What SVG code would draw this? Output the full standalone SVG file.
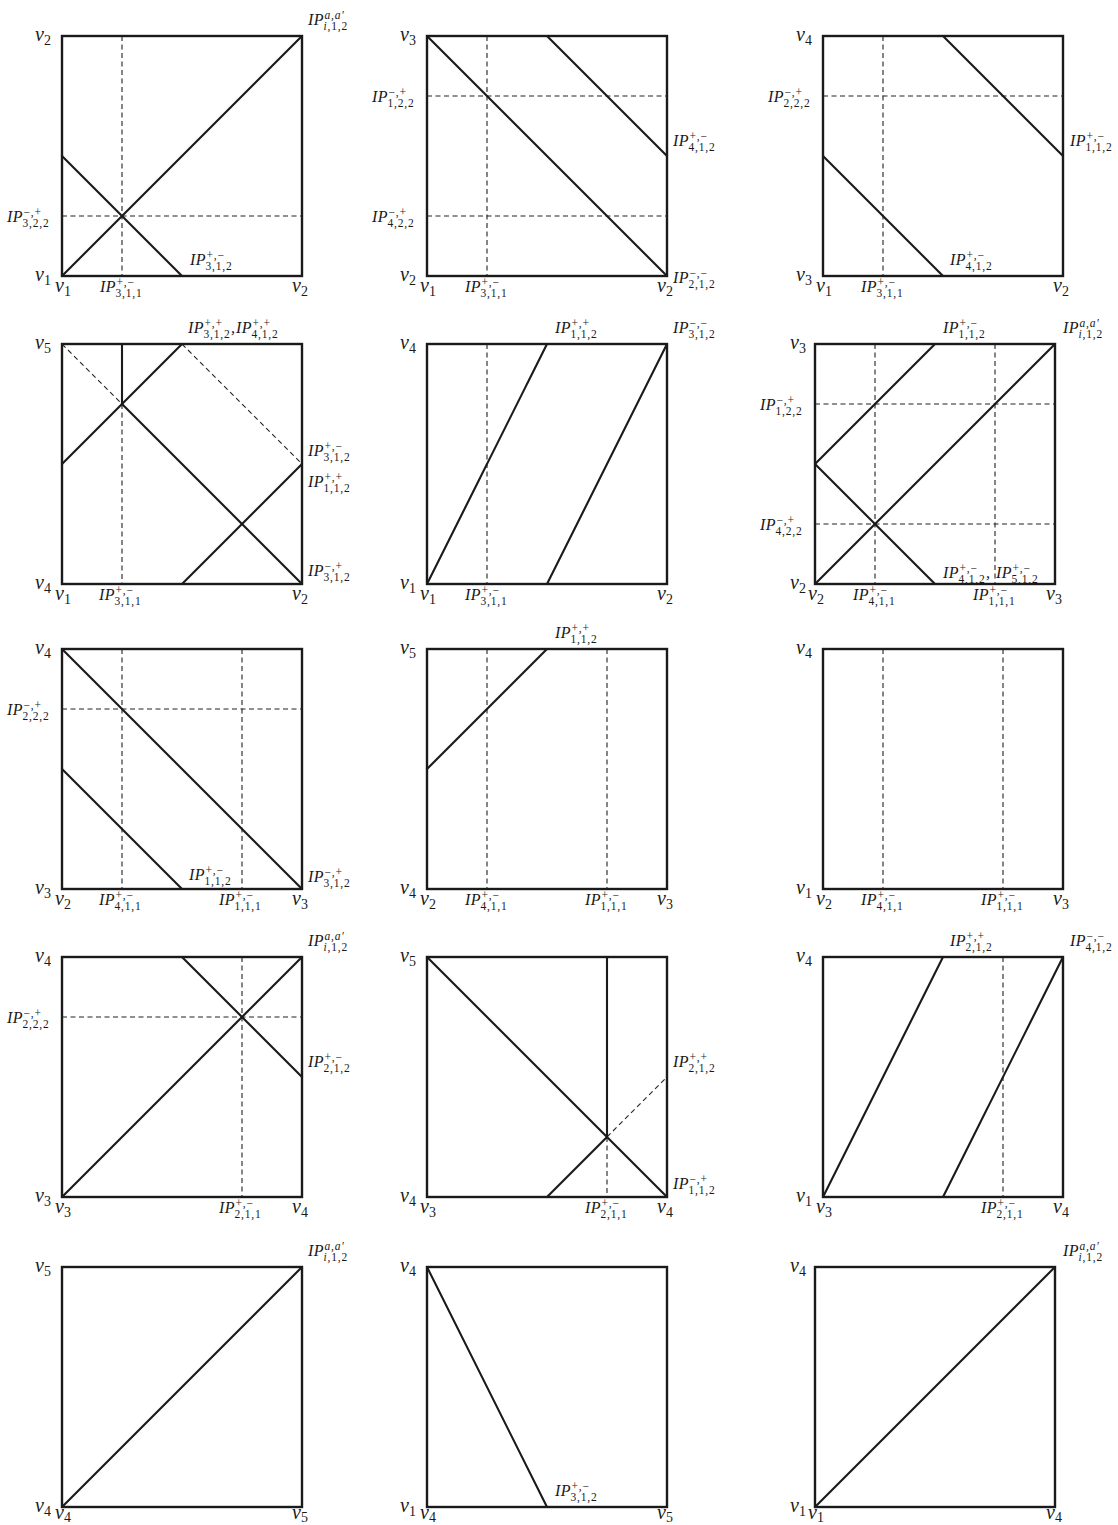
<svg xmlns="http://www.w3.org/2000/svg" width="1118" height="1525" viewBox="0 0 1118 1525">
<style>
.bg{fill:#ffffff}
.fr{fill:none;stroke:#1a1a1a;stroke-width:2.4}
.ln{fill:none;stroke:#1a1a1a;stroke-width:2.1;stroke-linecap:round}
.dl{fill:none;stroke:#222;stroke-width:1.1;stroke-dasharray:5 3.5}
.v{font-family:"Liberation Serif",serif;font-style:italic;font-size:20px;fill:#1a1a1a}
.vs{font-style:normal;font-size:14px}
.ip{font-family:"Liberation Serif",serif;font-style:italic;font-size:16px;letter-spacing:0.3px;fill:#1a1a1a}
.sp,.sb{font-style:normal;font-size:11.5px;letter-spacing:0.8px}
.it{font-style:italic}
</style>
<rect class="bg" x="0" y="0" width="1118" height="1525"/>

<!-- Row 1 -->
<g id="panel-1-1" transform="translate(62,36)">
  <rect class="fr" width="240" height="240"/>
  <g id="connectors-1-1">
    <line class="dl" x1="60" y1="0" x2="60" y2="240"/>
    <line class="dl" x1="0" y1="180" x2="240" y2="180"/>
    <line class="ln" x1="0" y1="240" x2="240" y2="0"/>
    <line class="ln" x1="0" y1="120" x2="120" y2="240"/>
  </g>
  <text class="v" x="-27" y="5">v<tspan class="vs" dy="4">2</tspan></text>
  <text class="v" x="-27" y="245">v<tspan class="vs" dy="4">1</tspan></text>
  <text class="v" x="-7" y="256">v<tspan class="vs" dy="4">1</tspan></text>
  <text class="v" x="230" y="256">v<tspan class="vs" dy="4">2</tspan></text>
  <text class="ip" x="246" y="-11">IP<tspan class="sp it" x="262.5" y="-17.5">a,a′</tspan><tspan class="sb" x="261.5" y="-6.5"><tspan class="it">i</tspan>,1,2</tspan></text>
  <text class="ip" x="-55" y="186">IP<tspan class="sp" x="-38.5" y="179.5">−,+</tspan><tspan class="sb" x="-39.5" y="190.5">3,2,2</tspan></text>
  <text class="ip" x="128" y="229">IP<tspan class="sp" x="144.5" y="222.5">+,−</tspan><tspan class="sb" x="143.5" y="233.5">3,1,2</tspan></text>
  <text class="ip" x="38" y="256">IP<tspan class="sp" x="54.5" y="249.5">+,−</tspan><tspan class="sb" x="53.5" y="260.5">3,1,1</tspan></text>
</g>

<g id="panel-1-2" transform="translate(427,36)">
  <rect class="fr" width="240" height="240"/>
  <g id="connectors-1-2">
    <line class="dl" x1="60" y1="0" x2="60" y2="240"/>
    <line class="dl" x1="0" y1="60" x2="240" y2="60"/>
    <line class="dl" x1="0" y1="180" x2="240" y2="180"/>
    <line class="ln" x1="0" y1="0" x2="240" y2="240"/>
    <line class="ln" x1="120" y1="0" x2="240" y2="120"/>
  </g>
  <text class="v" x="-27" y="5">v<tspan class="vs" dy="4">3</tspan></text>
  <text class="v" x="-27" y="245">v<tspan class="vs" dy="4">2</tspan></text>
  <text class="v" x="-7" y="256">v<tspan class="vs" dy="4">1</tspan></text>
  <text class="v" x="230" y="256">v<tspan class="vs" dy="4">2</tspan></text>
  <text class="ip" x="-55" y="66">IP<tspan class="sp" x="-38.5" y="59.5">−,+</tspan><tspan class="sb" x="-39.5" y="70.5">1,2,2</tspan></text>
  <text class="ip" x="-55" y="186">IP<tspan class="sp" x="-38.5" y="179.5">−,+</tspan><tspan class="sb" x="-39.5" y="190.5">4,2,2</tspan></text>
  <text class="ip" x="246" y="110">IP<tspan class="sp" x="262.5" y="103.5">+,−</tspan><tspan class="sb" x="261.5" y="114.5">4,1,2</tspan></text>
  <text class="ip" x="246" y="247">IP<tspan class="sp" x="262.5" y="240.5">−,−</tspan><tspan class="sb" x="261.5" y="251.5">2,1,2</tspan></text>
  <text class="ip" x="38" y="256">IP<tspan class="sp" x="54.5" y="249.5">+,−</tspan><tspan class="sb" x="53.5" y="260.5">3,1,1</tspan></text>
</g>

<g id="panel-1-3" transform="translate(823,36)">
  <rect class="fr" width="240" height="240"/>
  <g id="connectors-1-3">
    <line class="dl" x1="60" y1="0" x2="60" y2="240"/>
    <line class="dl" x1="0" y1="60" x2="240" y2="60"/>
    <line class="ln" x1="120" y1="0" x2="240" y2="120"/>
    <line class="ln" x1="0" y1="120" x2="120" y2="240"/>
  </g>
  <text class="v" x="-27" y="5">v<tspan class="vs" dy="4">4</tspan></text>
  <text class="v" x="-27" y="245">v<tspan class="vs" dy="4">3</tspan></text>
  <text class="v" x="-7" y="256">v<tspan class="vs" dy="4">1</tspan></text>
  <text class="v" x="230" y="256">v<tspan class="vs" dy="4">2</tspan></text>
  <text class="ip" x="-55" y="66">IP<tspan class="sp" x="-38.5" y="59.5">−,+</tspan><tspan class="sb" x="-39.5" y="70.5">2,2,2</tspan></text>
  <text class="ip" x="247" y="110">IP<tspan class="sp" x="263.5" y="103.5">+,−</tspan><tspan class="sb" x="262.5" y="114.5">1,1,2</tspan></text>
  <text class="ip" x="127" y="229">IP<tspan class="sp" x="143.5" y="222.5">+,−</tspan><tspan class="sb" x="142.5" y="233.5">4,1,2</tspan></text>
  <text class="ip" x="38" y="256">IP<tspan class="sp" x="54.5" y="249.5">+,−</tspan><tspan class="sb" x="53.5" y="260.5">3,1,1</tspan></text>
</g>

<!-- Row 2 -->
<g id="panel-2-1" transform="translate(62,344)">
  <rect class="fr" width="240" height="240"/>
  <g id="connectors-2-1">
    <line class="dl" x1="0" y1="0" x2="60" y2="60"/>
    <line class="dl" x1="120" y1="0" x2="240" y2="120"/>
    <line class="dl" x1="60" y1="60" x2="60" y2="240"/>
    <line class="ln" x1="60" y1="0" x2="60" y2="60"/>
    <line class="ln" x1="0" y1="120" x2="120" y2="0"/>
    <line class="ln" x1="60" y1="60" x2="240" y2="240"/>
    <line class="ln" x1="120" y1="240" x2="240" y2="120"/>
  </g>
  <text class="v" x="-27" y="5">v<tspan class="vs" dy="4">5</tspan></text>
  <text class="v" x="-27" y="245">v<tspan class="vs" dy="4">4</tspan></text>
  <text class="v" x="-7" y="256">v<tspan class="vs" dy="4">1</tspan></text>
  <text class="v" x="230" y="256">v<tspan class="vs" dy="4">2</tspan></text>
  <text class="ip" x="126" y="-11">IP<tspan class="sp" x="142.5" y="-17.5">+,+</tspan><tspan class="sb" x="141.5" y="-6.5">3,1,2</tspan><tspan x="169" y="-11">,</tspan><tspan x="174" y="-11">IP</tspan><tspan class="sp" x="190.5" y="-17.5">+,+</tspan><tspan class="sb" x="189.5" y="-6.5">4,1,2</tspan></text>
  <text class="ip" x="246" y="112">IP<tspan class="sp" x="262.5" y="105.5">+,−</tspan><tspan class="sb" x="261.5" y="116.5">3,1,2</tspan></text>
  <text class="ip" x="246" y="143">IP<tspan class="sp" x="262.5" y="136.5">+,+</tspan><tspan class="sb" x="261.5" y="147.5">1,1,2</tspan></text>
  <text class="ip" x="246" y="232">IP<tspan class="sp" x="262.5" y="225.5">−,+</tspan><tspan class="sb" x="261.5" y="236.5">3,1,2</tspan></text>
  <text class="ip" x="37" y="256">IP<tspan class="sp" x="53.5" y="249.5">+,−</tspan><tspan class="sb" x="52.5" y="260.5">3,1,1</tspan></text>
</g>

<g id="panel-2-2" transform="translate(427,344)">
  <rect class="fr" width="240" height="240"/>
  <g id="connectors-2-2">
    <line class="dl" x1="60" y1="0" x2="60" y2="240"/>
    <line class="ln" x1="0" y1="240" x2="120" y2="0"/>
    <line class="ln" x1="120" y1="240" x2="240" y2="0"/>
  </g>
  <text class="v" x="-27" y="5">v<tspan class="vs" dy="4">4</tspan></text>
  <text class="v" x="-27" y="245">v<tspan class="vs" dy="4">1</tspan></text>
  <text class="v" x="-7" y="256">v<tspan class="vs" dy="4">1</tspan></text>
  <text class="v" x="230" y="256">v<tspan class="vs" dy="4">2</tspan></text>
  <text class="ip" x="128" y="-11">IP<tspan class="sp" x="144.5" y="-17.5">+,+</tspan><tspan class="sb" x="143.5" y="-6.5">1,1,2</tspan></text>
  <text class="ip" x="246" y="-11">IP<tspan class="sp" x="262.5" y="-17.5">−,−</tspan><tspan class="sb" x="261.5" y="-6.5">3,1,2</tspan></text>
  <text class="ip" x="38" y="256">IP<tspan class="sp" x="54.5" y="249.5">+,−</tspan><tspan class="sb" x="53.5" y="260.5">3,1,1</tspan></text>
</g>

<g id="panel-2-3" transform="translate(815,344)">
  <rect class="fr" width="240" height="240"/>
  <g id="connectors-2-3">
    <line class="dl" x1="60" y1="0" x2="60" y2="240"/>
    <line class="dl" x1="180" y1="0" x2="180" y2="240"/>
    <line class="dl" x1="0" y1="60" x2="240" y2="60"/>
    <line class="dl" x1="0" y1="180" x2="240" y2="180"/>
    <line class="ln" x1="0" y1="240" x2="240" y2="0"/>
    <line class="ln" x1="0" y1="120" x2="120" y2="0"/>
    <line class="ln" x1="0" y1="120" x2="120" y2="240"/>
  </g>
  <text class="v" x="-25" y="5">v<tspan class="vs" dy="4">3</tspan></text>
  <text class="v" x="-25" y="245">v<tspan class="vs" dy="4">2</tspan></text>
  <text class="v" x="-7" y="256">v<tspan class="vs" dy="4">2</tspan></text>
  <text class="v" x="231" y="256">v<tspan class="vs" dy="4">3</tspan></text>
  <text class="ip" x="128" y="-11">IP<tspan class="sp" x="144.5" y="-17.5">+,−</tspan><tspan class="sb" x="143.5" y="-6.5">1,1,2</tspan></text>
  <text class="ip" x="248" y="-11">IP<tspan class="sp it" x="264.5" y="-17.5">a,a′</tspan><tspan class="sb" x="263.5" y="-6.5"><tspan class="it">i</tspan>,1,2</tspan></text>
  <text class="ip" x="-55" y="66">IP<tspan class="sp" x="-38.5" y="59.5">−,+</tspan><tspan class="sb" x="-39.5" y="70.5">1,2,2</tspan></text>
  <text class="ip" x="-55" y="186">IP<tspan class="sp" x="-38.5" y="179.5">−,+</tspan><tspan class="sb" x="-39.5" y="190.5">4,2,2</tspan></text>
  <text class="ip" x="128" y="234">IP<tspan class="sp" x="144.5" y="227.5">+,−</tspan><tspan class="sb" x="143.5" y="238.5">4,1,2</tspan><tspan x="171" y="234">,</tspan><tspan x="181" y="234">IP</tspan><tspan class="sp" x="197.5" y="227.5">+,−</tspan><tspan class="sb" x="196.5" y="238.5">5,1,2</tspan></text>
  <text class="ip" x="38" y="256">IP<tspan class="sp" x="54.5" y="249.5">+,−</tspan><tspan class="sb" x="53.5" y="260.5">4,1,1</tspan></text>
  <text class="ip" x="158" y="256">IP<tspan class="sp" x="174.5" y="249.5">+,−</tspan><tspan class="sb" x="173.5" y="260.5">1,1,1</tspan></text>
</g>

<!-- Row 3 -->
<g id="panel-3-1" transform="translate(62,649)">
  <rect class="fr" width="240" height="240"/>
  <g id="connectors-3-1">
    <line class="dl" x1="60" y1="0" x2="60" y2="240"/>
    <line class="dl" x1="180" y1="0" x2="180" y2="240"/>
    <line class="dl" x1="0" y1="60" x2="240" y2="60"/>
    <line class="ln" x1="0" y1="0" x2="240" y2="240"/>
    <line class="ln" x1="0" y1="120" x2="120" y2="240"/>
  </g>
  <text class="v" x="-27" y="5">v<tspan class="vs" dy="4">4</tspan></text>
  <text class="v" x="-27" y="245">v<tspan class="vs" dy="4">3</tspan></text>
  <text class="v" x="-7" y="256">v<tspan class="vs" dy="4">2</tspan></text>
  <text class="v" x="230" y="256">v<tspan class="vs" dy="4">3</tspan></text>
  <text class="ip" x="-55" y="66">IP<tspan class="sp" x="-38.5" y="59.5">−,+</tspan><tspan class="sb" x="-39.5" y="70.5">2,2,2</tspan></text>
  <text class="ip" x="127" y="231">IP<tspan class="sp" x="143.5" y="224.5">+,−</tspan><tspan class="sb" x="142.5" y="235.5">1,1,2</tspan></text>
  <text class="ip" x="246" y="233">IP<tspan class="sp" x="262.5" y="226.5">−,+</tspan><tspan class="sb" x="261.5" y="237.5">3,1,2</tspan></text>
  <text class="ip" x="37" y="256">IP<tspan class="sp" x="53.5" y="249.5">+,−</tspan><tspan class="sb" x="52.5" y="260.5">4,1,1</tspan></text>
  <text class="ip" x="157" y="256">IP<tspan class="sp" x="173.5" y="249.5">+,−</tspan><tspan class="sb" x="172.5" y="260.5">1,1,1</tspan></text>
</g>

<g id="panel-3-2" transform="translate(427,649)">
  <rect class="fr" width="240" height="240"/>
  <g id="connectors-3-2">
    <line class="dl" x1="60" y1="0" x2="60" y2="240"/>
    <line class="dl" x1="180" y1="0" x2="180" y2="240"/>
    <line class="ln" x1="0" y1="120" x2="120" y2="0"/>
  </g>
  <text class="v" x="-27" y="5">v<tspan class="vs" dy="4">5</tspan></text>
  <text class="v" x="-27" y="245">v<tspan class="vs" dy="4">4</tspan></text>
  <text class="v" x="-7" y="256">v<tspan class="vs" dy="4">2</tspan></text>
  <text class="v" x="230" y="256">v<tspan class="vs" dy="4">3</tspan></text>
  <text class="ip" x="128" y="-11">IP<tspan class="sp" x="144.5" y="-17.5">+,+</tspan><tspan class="sb" x="143.5" y="-6.5">1,1,2</tspan></text>
  <text class="ip" x="38" y="256">IP<tspan class="sp" x="54.5" y="249.5">+,−</tspan><tspan class="sb" x="53.5" y="260.5">4,1,1</tspan></text>
  <text class="ip" x="158" y="256">IP<tspan class="sp" x="174.5" y="249.5">+,−</tspan><tspan class="sb" x="173.5" y="260.5">1,1,1</tspan></text>
</g>

<g id="panel-3-3" transform="translate(823,649)">
  <rect class="fr" width="240" height="240"/>
  <g id="connectors-3-3">
    <line class="dl" x1="60" y1="0" x2="60" y2="240"/>
    <line class="dl" x1="180" y1="0" x2="180" y2="240"/>
  </g>
  <text class="v" x="-27" y="5">v<tspan class="vs" dy="4">4</tspan></text>
  <text class="v" x="-27" y="245">v<tspan class="vs" dy="4">1</tspan></text>
  <text class="v" x="-7" y="256">v<tspan class="vs" dy="4">2</tspan></text>
  <text class="v" x="230" y="256">v<tspan class="vs" dy="4">3</tspan></text>
  <text class="ip" x="38" y="256">IP<tspan class="sp" x="54.5" y="249.5">+,−</tspan><tspan class="sb" x="53.5" y="260.5">4,1,1</tspan></text>
  <text class="ip" x="158" y="256">IP<tspan class="sp" x="174.5" y="249.5">+,−</tspan><tspan class="sb" x="173.5" y="260.5">1,1,1</tspan></text>
</g>

<!-- Row 4 -->
<g id="panel-4-1" transform="translate(62,957)">
  <rect class="fr" width="240" height="240"/>
  <g id="connectors-4-1">
    <line class="dl" x1="180" y1="0" x2="180" y2="240"/>
    <line class="dl" x1="0" y1="60" x2="240" y2="60"/>
    <line class="ln" x1="0" y1="240" x2="240" y2="0"/>
    <line class="ln" x1="120" y1="0" x2="240" y2="120"/>
  </g>
  <text class="v" x="-27" y="5">v<tspan class="vs" dy="4">4</tspan></text>
  <text class="v" x="-27" y="245">v<tspan class="vs" dy="4">3</tspan></text>
  <text class="v" x="-7" y="256">v<tspan class="vs" dy="4">3</tspan></text>
  <text class="v" x="230" y="256">v<tspan class="vs" dy="4">4</tspan></text>
  <text class="ip" x="246" y="-11">IP<tspan class="sp it" x="262.5" y="-17.5">a,a′</tspan><tspan class="sb" x="261.5" y="-6.5"><tspan class="it">i</tspan>,1,2</tspan></text>
  <text class="ip" x="-55" y="66">IP<tspan class="sp" x="-38.5" y="59.5">−,+</tspan><tspan class="sb" x="-39.5" y="70.5">2,2,2</tspan></text>
  <text class="ip" x="246" y="110">IP<tspan class="sp" x="262.5" y="103.5">+,−</tspan><tspan class="sb" x="261.5" y="114.5">2,1,2</tspan></text>
  <text class="ip" x="157" y="256">IP<tspan class="sp" x="173.5" y="249.5">+,−</tspan><tspan class="sb" x="172.5" y="260.5">2,1,1</tspan></text>
</g>

<g id="panel-4-2" transform="translate(427,957)">
  <rect class="fr" width="240" height="240"/>
  <g id="connectors-4-2">
    <line class="dl" x1="180" y1="180" x2="180" y2="240"/>
    <line class="dl" x1="180" y1="180" x2="240" y2="120"/>
    <line class="ln" x1="0" y1="0" x2="240" y2="240"/>
    <line class="ln" x1="180" y1="0" x2="180" y2="180"/>
    <line class="ln" x1="120" y1="240" x2="180" y2="180"/>
  </g>
  <text class="v" x="-27" y="5">v<tspan class="vs" dy="4">5</tspan></text>
  <text class="v" x="-27" y="245">v<tspan class="vs" dy="4">4</tspan></text>
  <text class="v" x="-7" y="256">v<tspan class="vs" dy="4">3</tspan></text>
  <text class="v" x="230" y="256">v<tspan class="vs" dy="4">4</tspan></text>
  <text class="ip" x="246" y="110">IP<tspan class="sp" x="262.5" y="103.5">+,+</tspan><tspan class="sb" x="261.5" y="114.5">2,1,2</tspan></text>
  <text class="ip" x="246" y="232">IP<tspan class="sp" x="262.5" y="225.5">−,+</tspan><tspan class="sb" x="261.5" y="236.5">1,1,2</tspan></text>
  <text class="ip" x="158" y="256">IP<tspan class="sp" x="174.5" y="249.5">+,−</tspan><tspan class="sb" x="173.5" y="260.5">2,1,1</tspan></text>
</g>

<g id="panel-4-3" transform="translate(823,957)">
  <rect class="fr" width="240" height="240"/>
  <g id="connectors-4-3">
    <line class="dl" x1="180" y1="0" x2="180" y2="240"/>
    <line class="ln" x1="0" y1="240" x2="120" y2="0"/>
    <line class="ln" x1="120" y1="240" x2="240" y2="0"/>
  </g>
  <text class="v" x="-27" y="5">v<tspan class="vs" dy="4">4</tspan></text>
  <text class="v" x="-27" y="245">v<tspan class="vs" dy="4">1</tspan></text>
  <text class="v" x="-7" y="256">v<tspan class="vs" dy="4">3</tspan></text>
  <text class="v" x="230" y="256">v<tspan class="vs" dy="4">4</tspan></text>
  <text class="ip" x="127" y="-11">IP<tspan class="sp" x="143.5" y="-17.5">+,+</tspan><tspan class="sb" x="142.5" y="-6.5">2,1,2</tspan></text>
  <text class="ip" x="247" y="-11">IP<tspan class="sp" x="263.5" y="-17.5">−,−</tspan><tspan class="sb" x="262.5" y="-6.5">4,1,2</tspan></text>
  <text class="ip" x="158" y="256">IP<tspan class="sp" x="174.5" y="249.5">+,−</tspan><tspan class="sb" x="173.5" y="260.5">2,1,1</tspan></text>
</g>

<!-- Row 5 -->
<g id="panel-5-1" transform="translate(62,1267)">
  <rect class="fr" width="240" height="240"/>
  <g id="connectors-5-1">
    <line class="ln" x1="0" y1="240" x2="240" y2="0"/>
  </g>
  <text class="v" x="-27" y="5">v<tspan class="vs" dy="4">5</tspan></text>
  <text class="v" x="-27" y="245">v<tspan class="vs" dy="4">4</tspan></text>
  <text class="v" x="-7" y="252">v<tspan class="vs" dy="3">4</tspan></text>
  <text class="v" x="230" y="252">v<tspan class="vs" dy="3">5</tspan></text>
  <text class="ip" x="246" y="-11">IP<tspan class="sp it" x="262.5" y="-17.5">a,a′</tspan><tspan class="sb" x="261.5" y="-6.5"><tspan class="it">i</tspan>,1,2</tspan></text>
</g>

<g id="panel-5-2" transform="translate(427,1267)">
  <rect class="fr" width="240" height="240"/>
  <g id="connectors-5-2">
    <line class="ln" x1="0" y1="0" x2="120" y2="240"/>
  </g>
  <text class="v" x="-27" y="5">v<tspan class="vs" dy="4">4</tspan></text>
  <text class="v" x="-27" y="245">v<tspan class="vs" dy="4">1</tspan></text>
  <text class="v" x="-7" y="252">v<tspan class="vs" dy="3">4</tspan></text>
  <text class="v" x="230" y="252">v<tspan class="vs" dy="3">5</tspan></text>
  <text class="ip" x="128" y="229">IP<tspan class="sp" x="144.5" y="222.5">+,−</tspan><tspan class="sb" x="143.5" y="233.5">3,1,2</tspan></text>
</g>

<g id="panel-5-3" transform="translate(815,1267)">
  <rect class="fr" width="240" height="240"/>
  <g id="connectors-5-3">
    <line class="ln" x1="0" y1="240" x2="240" y2="0"/>
  </g>
  <text class="v" x="-25" y="5">v<tspan class="vs" dy="4">4</tspan></text>
  <text class="v" x="-25" y="245">v<tspan class="vs" dy="4">1</tspan></text>
  <text class="v" x="-7" y="252">v<tspan class="vs" dy="3">1</tspan></text>
  <text class="v" x="231" y="252">v<tspan class="vs" dy="3">4</tspan></text>
  <text class="ip" x="248" y="-11">IP<tspan class="sp it" x="264.5" y="-17.5">a,a′</tspan><tspan class="sb" x="263.5" y="-6.5"><tspan class="it">i</tspan>,1,2</tspan></text>
</g>
</svg>
